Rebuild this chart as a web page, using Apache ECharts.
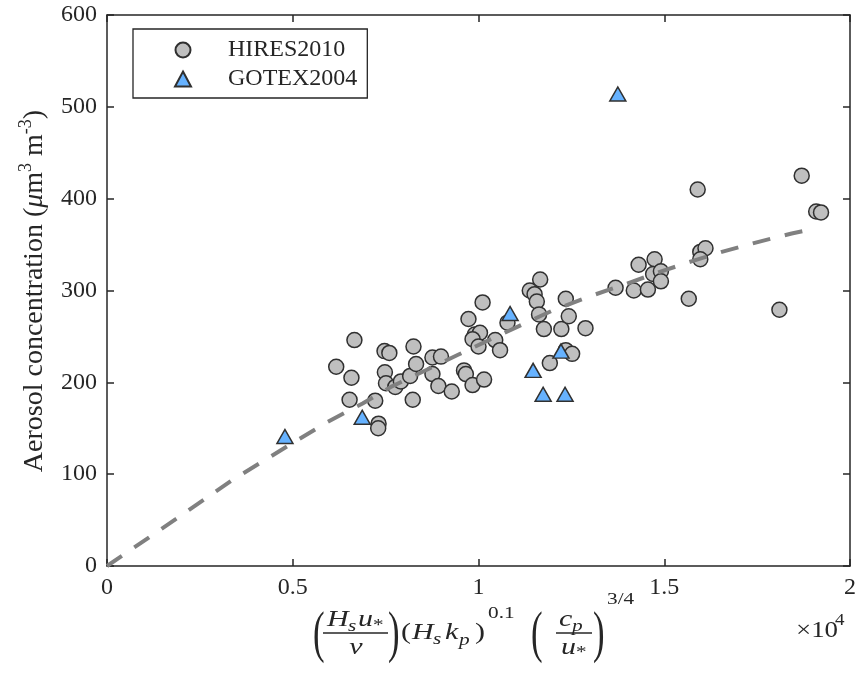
<!DOCTYPE html>
<html><head><meta charset="utf-8">
<script src="https://cdn.jsdelivr.net/npm/echarts@6/dist/echarts.min.js"></script>
<style>html,body{margin:0;padding:0;background:#fff}#c{width:859px;height:680px}</style>
</head><body><div id="c"></div>
<script>
// ---- data (x in units of 1e4) ----
const hiresX = [0.617,0.666,0.658,0.653,0.722,0.731,0.730,0.747,0.760,0.748,0.751,0.776,0.791,0.816,0.825,0.832,0.823,0.876,0.899,0.876,0.892,0.928,0.961,0.966,0.984,1.015,0.973,1.011,0.990,1.004,0.984,1.000,1.045,1.058,1.078,1.166,1.138,1.151,1.157,1.163,1.176,1.223,1.235,1.243,1.288,1.192,1.235,1.252,1.369,1.418,1.456,1.431,1.474,1.470,1.491,1.491,1.566,1.590,1.597,1.611,1.597,1.810,1.870,1.909,1.922];
const hiresY = [217,246,205,181,180,155,150,234,232,211,199,195,201,207,239,220,181,227,228,209,196,190,213,209,197,203,269,287,252,254,247,239,246,235,265,312,300,296,288,274,258,258,291,272,259,221,235,231,303,300,301,328,334,318,321,310,291,410,342,346,334,279,425,386,385];
const gotexX = [0.479,0.687,1.085,1.147,1.174,1.233,1.222,1.375];
const gotexY = [141,162,275,213,187,187,234,514];
const fitX = [0,0.185,0.339,0.5,0.594,0.688,0.764,0.945,1.028,1.118,1.198,1.302,1.396,1.486,1.575,1.655,1.754,1.843,1.89];
const fitY = [0,51,94,134,157,177,195,230,246,263,278,294,307,320,332,342,353,362,366];
const seriesNames = ['HIRES2010','GOTEX2004'];
const xTicks = [0,0.5,1,1.5,2];
const yTicks = [0,100,200,300,400,500,600];

const FONT = "'Liberation Serif', 'Times New Roman', Times, serif";
const INK = '#262626';
const SX = 1.25;

function T(str, x, cy, size, italic, sx, align) {
  return {type:'text', x:x, y:cy, scaleX: sx || 1, silent:true,
    style:{text:str, fontFamily:FONT, fontSize:size, fontStyle: italic ? 'italic' : 'normal',
      fill:INK, align: align || 'left', verticalAlign:'middle'}};
}
function L(x1, x2, y) {
  return {type:'line', silent:true, shape:{x1:x1,y1:y,x2:x2,y2:y}, style:{stroke:INK, lineWidth:1.3}};
}

const axisCommon = {
  type:'value', splitLine:{show:false},
  axisLine:{show:true, onZero:false, lineStyle:{color:INK, width:1.5}},
  axisTick:{show:true, inside:true, length:7, lineStyle:{color:INK, width:1.5}}
};

const chart = echarts.init(document.getElementById('c'), null, {renderer:'canvas'});
const option = {
  animation:false,
  backgroundColor:'#fff',
  grid:{left:107, right:7, top:15, bottom:114},
  xAxis:[
    Object.assign({}, axisCommon, {min:xTicks[0], max:xTicks[xTicks.length-1], interval:xTicks[1]-xTicks[0], position:'bottom',
      axisLabel:{margin:10, fontFamily:FONT, fontSize:24, color:INK}}),
    Object.assign({}, axisCommon, {min:xTicks[0], max:xTicks[xTicks.length-1], interval:xTicks[1]-xTicks[0], position:'top',
      axisLabel:{show:false}})
  ],
  yAxis:[
    Object.assign({}, axisCommon, {min:yTicks[0], max:yTicks[yTicks.length-1], interval:yTicks[1]-yTicks[0], position:'left',
      axisLabel:{margin:10, fontFamily:FONT, fontSize:24, color:INK}}),
    Object.assign({}, axisCommon, {min:yTicks[0], max:yTicks[yTicks.length-1], interval:yTicks[1]-yTicks[0], position:'right',
      axisLabel:{show:false}})
  ],
  legend:{
    data:seriesNames, orient:'vertical', left:133, top:29, selectedMode:false,
    backgroundColor:'#fff', borderColor:INK, borderWidth:1.3, borderRadius:0,
    padding:[8,10,6,41], itemWidth:16, itemHeight:15, itemGap:3,
    textStyle:{fontFamily:FONT, fontSize:24, color:INK, lineHeight:26, padding:[0,0,0,32]}
  },
  series:[
    {name:seriesNames[0], type:'scatter', z:2,
     data:hiresX.map((x,i)=>[x,hiresY[i]]), symbol:'circle', symbolSize:15,
     itemStyle:{color:'#bfbfbf', borderColor:'#303030', borderWidth:1.5, opacity:1}},
    {name:seriesNames[1], type:'scatter', z:3,
     data:gotexX.map((x,i)=>[x,gotexY[i]]), symbol:'triangle', symbolSize:[16,14],
     itemStyle:{color:'#66b2ff', borderColor:'#303030', borderWidth:1.5, opacity:1}},
    {name:'fit', type:'line', z:4, silent:true,
     data:fitX.map((x,i)=>[x,fitY[i]]), showSymbol:false, symbol:'none',
     lineStyle:{color:'#808080', width:4, type:[18,15]}}
  ],
  graphic:[
    // y-axis title
    {type:'text', x:35, y:291, rotation:Math.PI/2, silent:true,
     style:{text:'{n|Aerosol concentration (}{i|\u03bc}{n|m}{s|3}{n| m}{s|-3}{n|)}',
       align:'center', verticalAlign:'middle', fill:INK,
       rich:{
         n:{fontFamily:FONT, fontSize:28, lineHeight:36, fill:INK},
         i:{fontFamily:FONT, fontSize:28, fontStyle:'italic', lineHeight:36, fill:INK},
         s:{fontFamily:FONT, fontSize:18, lineHeight:12, verticalAlign:'top', fill:INK}
       }}},
    // x-axis title: (Hs u* / nu)
    T('(', 313, 636, 58, false, 0.6),
    T('H', 327, 620, 24, true, SX), T('s', 348, 627, 17, true, SX), T('u', 358, 620, 24, true, SX), T('*', 373, 626, 17, false, SX),
    L(323, 388, 633),
    T('\u03bd', 356, 648, 24, true, SX, 'center'),
    T(')', 388, 636, 58, false, 0.6),
    // (Hs kp)^0.1
    T('(', 401, 633, 24, false, SX),
    T('H', 412, 633, 24, true, SX), T('s', 433, 640, 17, true, SX), T('k', 445, 633, 24, true, SX), T('p', 459, 641, 17, true, SX),
    T(')', 475, 633, 24, false, SX),
    T('0.1', 488, 614, 17, false, SX),
    // (cp/u*)^(3/4)
    T('(', 531, 636, 58, false, 0.6),
    T('c', 559, 620, 24, true, SX), T('p', 572, 627, 17, true, SX),
    L(556, 592, 633),
    T('u', 561, 648, 24, true, SX), T('*', 576, 653, 17, false, SX),
    T(')', 593, 636, 58, false, 0.6),
    T('3/4', 607, 600, 17, false, SX),
    // multiplier
    T('\u00d710', 796, 631, 24, false, 1.12), T('4', 835, 621, 17, false, 1.12)
  ]
};
chart.setOption(option);
</script>
</body></html>
